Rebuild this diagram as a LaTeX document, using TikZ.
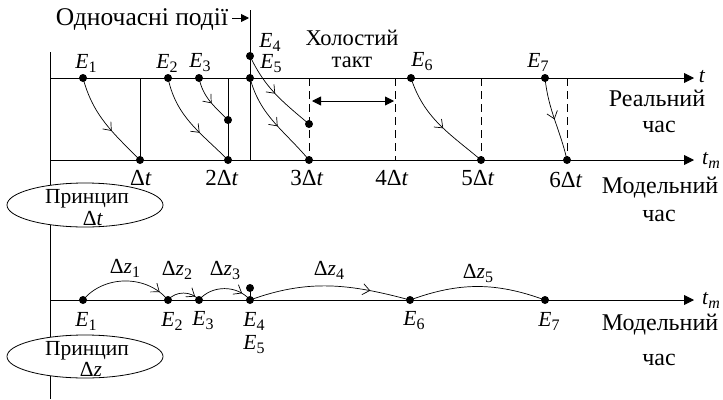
\documentclass[tikz,border=0pt]{standalone}
\usepackage{fontspec}
\setmainfont{Liberation Serif}
\usetikzlibrary{arrows.meta,decorations.markings,shapes.geometric}
\newcommand{\sbs}[1]{\raisebox{-4pt}{\fontsize{16}{16}\selectfont #1}}
\newcommand{\Ev}[1]{\textit{E}\sbs{#1}}
\newcommand{\Dz}[1]{Δ\textit{z}\sbs{#1}}
\newcommand{\Dt}{Δ\textit{t}}
\tikzset{
  ax/.style={line width=0.9pt},
  axarr/.style={line width=0.9pt,-{Triangle[length=10pt,width=10pt]}},
  tick/.style={line width=0.9pt},
  dtick/.style={line width=0.9pt,dash pattern=on 8pt off 5pt},
  dot/.style={circle,fill=black,inner sep=0pt,minimum size=8pt},
  cur/.style={line width=0.7pt},
  midarr/.style={postaction={decorate},decoration={markings,
     mark=at position #1 with {\arrow{Straight Barb[length=7pt,width=11pt,line width=0.7pt]}}}},
  lbl/.style={inner sep=0pt},
  wordtxt/.style={inner sep=0pt,font=\fontsize{24}{26}\selectfont},
  midtxt/.style={inner sep=0pt,font=\fontsize{22.5}{24}\selectfont},
  elltxt/.style={inner sep=0pt,font=\fontsize{21.5}{22}\selectfont},
  ticktxt/.style={inner sep=0pt,font=\fontsize{23}{24}\selectfont},
  princ/.style={ellipse,draw,fill=white,line width=0.8pt,inner sep=0pt,minimum width=156pt,minimum height=44pt}
}
\begin{document}
\begin{tikzpicture}[x=1pt,y=1pt,font=\fontsize{21.5}{22}\selectfont]
\useasboundingbox (0,0) rectangle (723,-399);
% left vertical axis
\coordinate (va0) at (50,-52);
\coordinate (va1) at (50,-399);
\draw[ax] (va0) -- (va1);
% real time axis
\coordinate (rt0) at (50,-78); \coordinate (rt1) at (694,-78);
\draw[axarr] (rt0) -- (rt1);
\node[lbl] (tl) at (702,-77) {\textit{t}};
% model time axis
\coordinate (mt0) at (50,-160); \coordinate (mt1) at (694,-160);
\draw[axarr] (mt0) -- (mt1);
\node[lbl] (tml) at (711,-160) {\textit{t}\sbs{\textit{m}}};
% vertical ticks
\coordinate (v1a) at (140,-78); \coordinate (v1b) at (140,-160);
\coordinate (v2a) at (228,-78); \coordinate (v2b) at (228,-160);
\coordinate (vsa) at (250,-10); \coordinate (vsb) at (250,-160);
\coordinate (v3a) at (309,-78); \coordinate (v3b) at (309,-160);
\coordinate (v4a) at (395,-78); \coordinate (v4b) at (395,-160);
\coordinate (v5a) at (481,-78); \coordinate (v5b) at (481,-160);
\coordinate (v6a) at (567,-78); \coordinate (v6b) at (567,-160);
\draw[tick] (v1a) -- (v1b);
\draw[tick] (v2a) -- (v2b);
\draw[tick] (vsa) -- (vsb);
\draw[dtick] (v3a) -- (v3b);
\draw[dtick] (v4a) -- (v4b);
\draw[dtick] (v5a) -- (v5b);
\draw[dtick] (v6a) -- (v6b);
% simultaneous events label
\node[lbl,font=\fontsize{25.5}{26}\selectfont] (od) at (142,-20) {Одночасні події};
\coordinate (oda) at (232,-18); \coordinate (odb) at (249,-18);
\draw[line width=0.9pt,-{Triangle[length=8pt,width=8pt]}] (oda) -- (odb);
% idle tact
\node[midtxt] (hol) at (352,-38) {Холостий};
\node[midtxt] (tak) at (352,-62) {такт};
\coordinate (ha) at (312,-101); \coordinate (hb) at (394,-101);
\draw[line width=0.9pt,{Triangle[length=9pt,width=9pt]}-{Triangle[length=9pt,width=9pt]}] (ha) -- (hb);
% right labels
\node[wordtxt] (rc1) at (657,-98) {Реальний};
\node[wordtxt] (rc2) at (659,-127) {час};
\node[wordtxt] (mc1) at (660,-188) {Модельний};
\node[wordtxt] (mc2) at (659,-216) {час};
% top events
\node[dot] (e1) at (83,-78) {};
\node[dot] (d1) at (140,-160) {};
\node[dot] (e2) at (168,-78) {};
\node[dot] (d2) at (228,-160) {};
\node[dot] (e3) at (199,-78) {};
\node[dot] (m3) at (228,-120) {};
\node[dot] (e4) at (250,-56) {};
\node[dot] (e5) at (250,-78) {};
\node[dot] (m4) at (309,-124) {};
\node[dot] (d3) at (309,-160) {};
\node[dot] (e6) at (411,-78) {};
\node[dot] (d5) at (481,-160) {};
\node[dot] (e7) at (545,-78) {};
\node[dot] (d6) at (567,-160) {};
\draw[cur,midarr=0.6] (e1.center) to[out=-75,in=135] (d1.center);
\draw[cur,midarr=0.62] (e2.center) to[out=-78,in=135] (d2.center);
\draw[cur,midarr=0.55] (e3.center) to[out=-78,in=135] (m3.center);
\draw[cur,midarr=0.5] (e4.center) to[out=-65,in=140] (m4.center);
\draw[cur,midarr=0.55] (e5.center) to[out=-75,in=130] (d3.center);
\draw[cur,midarr=0.55] (e6.center) to[out=-72,in=140] (d5.center);
\draw[cur,midarr=0.5] (e7.center) to[out=-84,in=103] (d6.center);
\node[lbl] (le1) at (86,-63) {\Ev{1}};
\node[lbl] (le2) at (167,-63) {\Ev{2}};
\node[lbl] (le3) at (200,-63) {\Ev{3}};
\node[lbl] (le4) at (270,-42) {\Ev{4}};
\node[lbl] (le5) at (271,-64) {\Ev{5}};
\node[lbl] (le6) at (422,-62) {\Ev{6}};
\node[lbl] (le7) at (538,-62) {\Ev{7}};
% tick labels
\node[ticktxt] (t1) at (141,-178) {\Dt};
\node[ticktxt] (t2) at (222,-178) {2\Dt};
\node[ticktxt] (t3) at (307,-178) {3\Dt};
\node[ticktxt] (t4) at (392,-178) {4\Dt};
\node[ticktxt] (t5) at (478,-178) {5\Dt};
\node[ticktxt] (t6) at (566,-180) {6\Dt};
% principle delta t
\node[princ] (p1) at (85,-205) {};
\node[elltxt,anchor=base] (p1a) at (87,-203.5) {Принцип};
\node[elltxt,anchor=base] (p1b) at (93,-225) {\Dt};
% bottom axis
\coordinate (bt0) at (50,-300); \coordinate (bt1) at (694,-300);
\draw[axarr] (bt0) -- (bt1);
\node[lbl] (btml) at (711,-300) {\textit{t}\sbs{\textit{m}}};
\node[wordtxt] (bm1) at (660,-325) {Модельний};
\node[wordtxt] (bm2) at (659,-360) {час};
\node[dot] (b1) at (83,-300) {};
\node[dot] (b2) at (168,-300) {};
\node[dot] (b3) at (199,-300) {};
\node[dot] (b4) at (250,-300) {};
\node[dot] (b4t) at (250,-288) {};
\node[dot] (b6) at (410,-300) {};
\node[dot] (b7) at (545,-300) {};
\draw[cur] (b4t.center) -- (b4.center);
\draw[cur,midarr=0.88] (b1.center) to[out=50,in=130] (b2.center);
\draw[cur,midarr=0.85] (b2.center) to[out=50,in=130] (b3.center);
\draw[cur,midarr=0.82] (b3.center) to[out=50,in=130] (b4.center);
\draw[cur,midarr=0.75] (b4.center) to[out=20,in=165] (b6.center);
\draw[cur] (b6.center) to[out=20,in=160] (b7.center);
\node[lbl] (dz1) at (125,-268) {\Dz{1}};
\node[lbl] (dz2) at (177,-270) {\Dz{2}};
\node[lbl] (dz3) at (225,-270) {\Dz{3}};
\node[lbl] (dz4) at (329,-270) {\Dz{4}};
\node[lbl] (dz5) at (478,-273) {\Dz{5}};
\node[lbl] (lb1) at (86,-321) {\Ev{1}};
\node[lbl] (lb2) at (172,-321) {\Ev{2}};
\node[lbl] (lb3) at (203,-321) {\Ev{3}};
\node[lbl] (lb4) at (254,-321) {\Ev{4}};
\node[lbl] (lb5) at (254,-345) {\Ev{5}};
\node[lbl] (lb6) at (414,-321) {\Ev{6}};
\node[lbl] (lb7) at (549,-321) {\Ev{7}};
% principle delta z
\node[princ,minimum height=43pt] (p2) at (85,-356.5) {};
\node[elltxt,anchor=base] (p2a) at (87,-355) {Принцип};
\node[elltxt,anchor=base] (p2b) at (91,-376.5) {\Dz{}};
\end{tikzpicture}
\end{document}
